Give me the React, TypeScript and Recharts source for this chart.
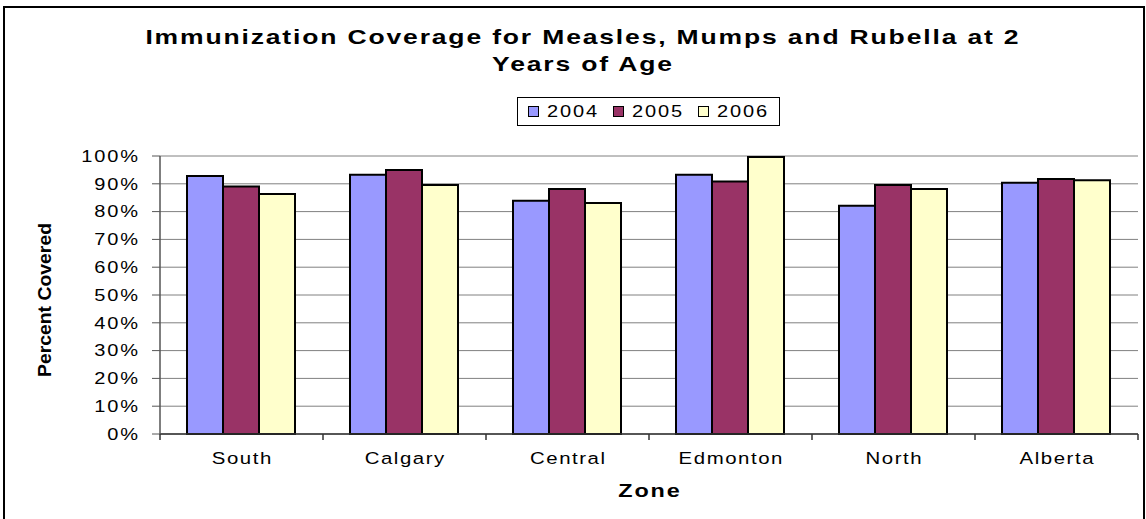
import { BarChart, Bar, XAxis, YAxis, CartesianGrid, Legend, Label } from 'recharts'

const FONT = '"Liberation Sans", Arial, Helvetica, sans-serif'

// values
const zones = ['South', 'Calgary', 'Central', 'Edmonton', 'North', 'Alberta']
const years = ['2004', '2005', '2006']
const coverage2004 = [0.928, 0.933, 0.839, 0.933, 0.821, 0.904]
const coverage2005 = [0.89, 0.95, 0.881, 0.908, 0.896, 0.917]
const coverage2006 = [0.863, 0.896, 0.831, 0.996, 0.881, 0.913]
const percentTicks = [0, 0.1, 0.2, 0.3, 0.4, 0.5, 0.6, 0.7, 0.8, 0.9, 1]
const yearColors = ['#9999FF', '#993366', '#FFFFCC']

const chartData = zones.map((zone, i) => ({
  zone,
  '2004': coverage2004[i],
  '2005': coverage2005[i],
  '2006': coverage2006[i],
}))

// the original picture is stretched sideways, so the text is too
function WideText(props: {
  x: number
  y: number
  sx: number
  ls: number
  size: number
  anchor: 'start' | 'middle' | 'end'
  bold?: boolean
  dy?: string
  children: any
}) {
  const { x, y, sx, ls, size, anchor, bold, dy, children } = props
  // letter-spacing also trails the last glyph; shift back so the ink sits where it should
  const shift = anchor === 'end' ? ls * sx : anchor === 'middle' ? (ls * sx) / 2 : 0
  return (
    <text
      transform={`translate(${x + shift} ${y}) scale(${sx} 1)`}
      x={0}
      y={0}
      dy={dy}
      textAnchor={anchor}
      fontSize={size}
      fontWeight={bold ? 'bold' : 'normal'}
      letterSpacing={ls}
      fontFamily={FONT}
      fill="#000"
    >
      {children}
    </text>
  )
}

function ZoneTick(props: any) {
  const { x, y, payload, index } = props
  const half = payload?.offset ?? 0
  const last = index === zones.length - 1
  return (
    <g>
      <line x1={x - half} x2={x - half} y1={y} y2={y + 6} stroke="#333" strokeWidth={1.5} />
      {last && <line x1={x + half} x2={x + half} y1={y} y2={y + 6} stroke="#333" strokeWidth={1.5} />}
      <WideText x={x} y={y + 30} sx={1.2} ls={1.3} size={17} anchor="middle">
        {payload.value}
      </WideText>
    </g>
  )
}

function PercentTick(props: any) {
  const { x, y, payload } = props
  return (
    <WideText x={x} y={y} dy="0.36em" sx={1.25} ls={1.5} size={16} anchor="end">
      {Math.round(payload.value * 100)}%
    </WideText>
  )
}

function YearLegend() {
  return (
    <div
      style={{
        width: 251,
        height: 27,
        paddingLeft: 10,
        border: '1px solid #000',
        background: '#fff',
        display: 'flex',
        alignItems: 'center',
        fontFamily: FONT,
      }}
    >
      {years.map((yr, i) => (
        <span key={yr} style={{ display: 'inline-flex', alignItems: 'center', marginRight: 15 }}>
          <span
            style={{
              width: 9,
              height: 9,
              border: '1px solid #000',
              background: yearColors[i],
              marginRight: 8,
            }}
          />
          <span style={{ display: 'inline-block', width: 51, whiteSpace: 'nowrap' }}>
            <span
              style={{
                display: 'inline-block',
                fontSize: 16,
                letterSpacing: 1.5,
                color: '#000',
                transform: 'scaleX(1.25)',
                transformOrigin: 'left center',
              }}
            >
              {yr}
            </span>
          </span>
        </span>
      ))}
    </div>
  )
}

export default function App() {
  return (
    <div
      style={{
        position: 'absolute',
        left: 0,
        top: 0,
        width: 1146,
        height: 519,
        overflow: 'hidden',
        background: '#fff',
      }}
    >
      <div
        style={{
          position: 'absolute',
          left: 3,
          top: 6,
          width: 1138,
          height: 540,
          border: '2px solid #000',
        }}
      />
      <div style={{ position: 'absolute', left: 0, top: 0 }}>
        <BarChart
          width={1146}
          height={519}
          data={chartData}
          margin={{ top: 156, right: 8, bottom: 0, left: 0 }}
          barCategoryGap={27}
          barGap={0}
        >
          <CartesianGrid vertical={false} stroke="#808080" />
          <XAxis
            dataKey="zone"
            interval={0}
            height={85}
            tickSize={0}
            tickMargin={0}
            tickLine={false}
            axisLine={{ stroke: '#333', strokeWidth: 1.5 }}
            tick={(p: any) => <ZoneTick {...p} />}
          >
            <Label
              content={(p: any) => {
                const vb = p.viewBox
                return (
                  <WideText x={vb.x + vb.width / 2} y={vb.y + 63} sx={1.3} ls={1.5} size={18} anchor="middle" bold>
                    Zone
                  </WideText>
                )
              }}
            />
          </XAxis>
          <XAxis
            xAxisId="frame"
            orientation="top"
            height={0}
            tick={false}
            tickLine={false}
            axisLine={{ stroke: '#808080', strokeWidth: 2 }}
          />
          <YAxis
            width={160}
            domain={[0, 1]}
            ticks={percentTicks}
            interval={0}
            tickSize={8}
            tickMargin={14}
            tickLine={{ stroke: '#555' }}
            axisLine={{ stroke: '#555', strokeWidth: 1.5 }}
            tick={(p: any) => <PercentTick {...p} />}
          >
            <Label
              content={(p: any) => {
                const vb = p.viewBox
                const cy = vb.y + vb.height / 2 + 5
                return (
                  <text
                    x={44}
                    y={cy}
                    transform={`rotate(-90 44 ${cy})`}
                    textAnchor="middle"
                    dominantBaseline="central"
                    fontSize={18.5}
                    fontWeight="bold"
                    textLength={154}
                    lengthAdjust="spacingAndGlyphs"
                    fontFamily={FONT}
                    fill="#000"
                  >
                    Percent Covered
                  </text>
                )
              }}
            />
          </YAxis>
          <YAxis
            yAxisId="frame"
            orientation="right"
            width={0}
            tick={false}
            tickLine={false}
            axisLine={{ stroke: '#808080', strokeWidth: 2 }}
          />
          <Legend
            layout="horizontal"
            verticalAlign="middle"
            align="center"
            content={() => <YearLegend />}
            wrapperStyle={{ position: 'absolute', left: 517, top: 97, width: 263, height: 29 }}
          />
          {years.map((yr, i) => (
            <Bar
              key={yr}
              dataKey={yr}
              fill={yearColors[i]}
              stroke="#000"
              strokeWidth={2}
              isAnimationActive={false}
            />
          ))}
        </BarChart>
      </div>
      <svg
        width={1146}
        height={100}
        style={{ position: 'absolute', left: 0, top: 0, pointerEvents: 'none' }}
      >
        <WideText x={582} y={44} sx={1.36} ls={1.35} size={19.5} anchor="middle" bold>
          Immunization Coverage for Measles, Mumps and Rubella at 2
        </WideText>
        <WideText x={582} y={71} sx={1.36} ls={1.35} size={19.5} anchor="middle" bold>
          Years of Age
        </WideText>
      </svg>
    </div>
  )
}
